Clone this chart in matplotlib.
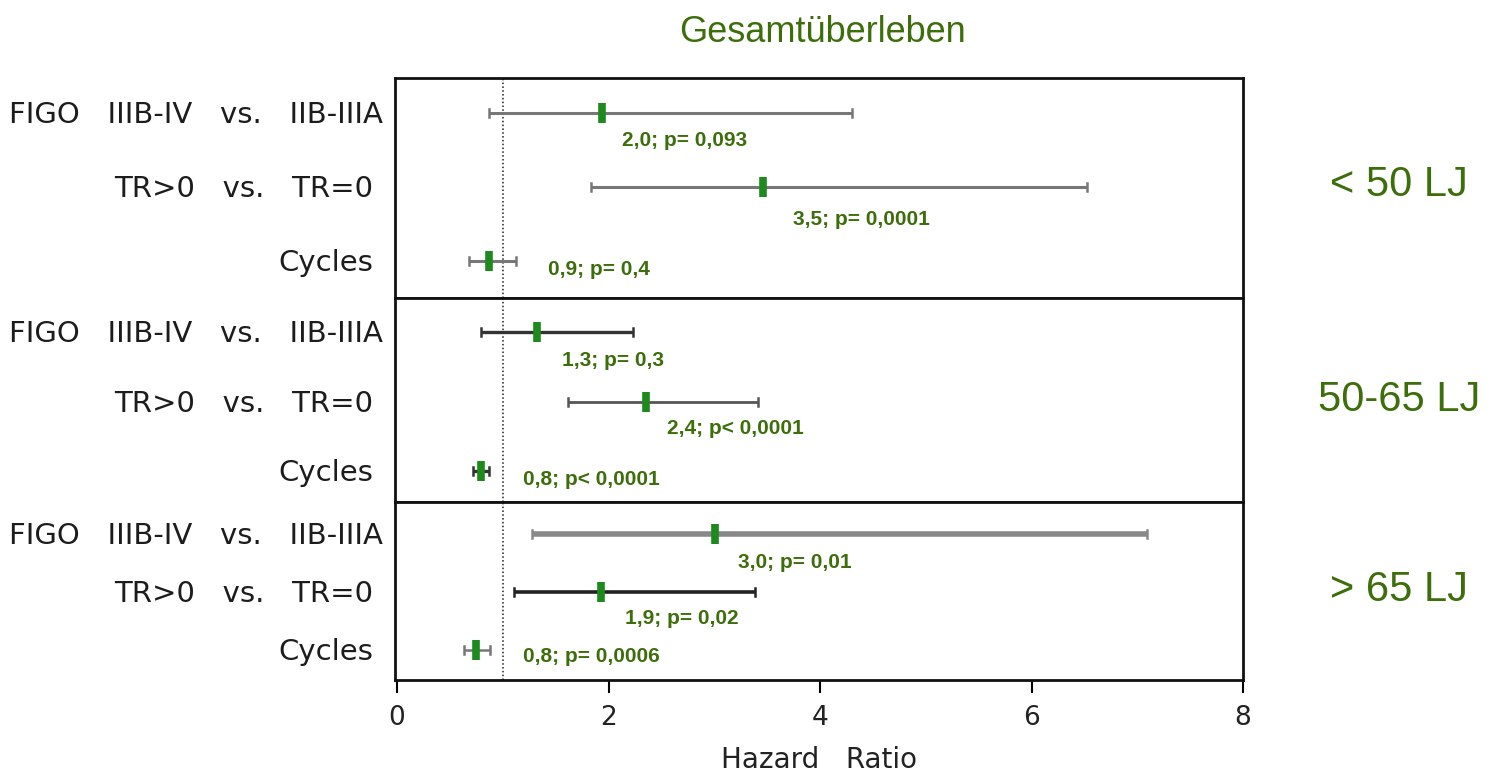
import numpy as np
import matplotlib.pyplot as plt

# hazard ratios with confidence intervals, per age group
groups = ["< 50 LJ", "50-65 LJ", "> 65 LJ"]
rows = ["FIGO   IIIB-IV   vs.   IIB-IIIA", "TR>0   vs.   TR=0", "Cycles"]
hr = [[1.94, 3.46, 0.87],
      [1.32, 2.35, 0.79],
      [3.01, 1.93, 0.75]]
ci_low = [[0.87, 1.83, 0.68],
          [0.79, 1.62, 0.72],
          [1.28, 1.11, 0.63]]
ci_high = [[4.30, 6.52, 1.12],
           [2.23, 3.41, 0.87],
           [7.09, 3.38, 0.88]]
notes = [["2,0; p= 0,093", "3,5; p= 0,0001", "0,9; p= 0,4"],
         ["1,3; p= 0,3", "2,4; p< 0,0001", "0,8; p< 0,0001"],
         ["3,0; p= 0,01", "1,9; p= 0,02", "0,8; p= 0,0006"]]
xticks = [0, 2, 4, 6, 8]

# layout in pixels of the reference (panel tops / row centres)
W, H = 1490, 774
panel_px = [(78, 298), (298, 502), (502, 680)]
row_px = [[113, 187, 261], [332, 402, 471], [534, 592, 650]]
label_right = [383, 373, 373]
note_px = [[(622, 141), (793, 220), (548, 270)],
           [(562, 361), (667, 429), (523, 480)],
           [(738, 563), (625, 618), (523, 657)]]
bar_style = [[("#777777", 2.2), ("#777777", 2.2), ("#777777", 2.2)],
             [("#333333", 2.4), ("#555555", 2.0), ("#333333", 2.4)],
             [("#888888", 4.0), ("#222222", 2.6), ("#777777", 1.8)]]

GREEN = "#3d6e0c"
MARK = "#1e8a1e"
LEFT, RIGHT = 395, 1243
XMIN, XMAX = -0.02, 8

fig = plt.figure(figsize=(W / 100, H / 100), dpi=100)
plt.rcParams['font.family'] = ['Liberation Sans', 'DejaVu Sans']


def px_to_x(px):
    return XMIN + (px - LEFT) / (RIGHT - LEFT) * (XMAX - XMIN)


for g, (top, bot) in enumerate(panel_px):
    ax = fig.add_axes([LEFT / W, 1 - bot / H, (RIGHT - LEFT) / W, (bot - top) / H])
    ax.set_xlim(XMIN, XMAX)
    ax.set_ylim(bot, top)
    for s in ax.spines.values():
        s.set_linewidth(2.0)
        s.set_color("#111111")
    ax.set_yticks([])
    ax.axvline(1, color="#222222", lw=1.1, ls=(0, (1, 1.5)))
    for r in range(3):
        y = row_px[g][r]
        col, lw = bar_style[g][r]
        ax.plot([ci_low[g][r], ci_high[g][r]], [y, y], color=col, lw=lw,
                solid_capstyle='butt')
        for xe in (ci_low[g][r], ci_high[g][r]):
            ax.plot([xe, xe], [y - 4, y + 4], color=col, lw=1.8)
        ax.plot([hr[g][r]], [y], marker='|', ms=15, mew=5.5, color=MARK)
        nx, ny = note_px[g][r]
        ax.text(px_to_x(nx), ny, notes[g][r], color=GREEN, fontsize=15,
                fontweight='bold', va='center', ha='left')
        fig.text(label_right[r] / W, 1 - (y + 2) / H, rows[r], ha='right',
                 va='center', fontsize=21, color="#1c1c1c", family='DejaVu Sans')
    fig.text(1399 / W, 1 - (row_px[g][1] - 2) / H, groups[g], ha='center',
             va='center', fontsize=30, color=GREEN)
    if g < 2:
        ax.set_xticks([])
    else:
        ax.set_xticks(xticks)
        ax.set_xticklabels([str(t) for t in xticks], family='DejaVu Sans')
        ax.tick_params(axis='x', length=9, width=1.5, labelsize=19,
                       labelcolor="#222222", pad=9)
        ax.set_xlabel("Hazard   Ratio", fontsize=20, color="#222222",
                      labelpad=11, family='DejaVu Sans')

fig.text(823 / W, 1 - 42 / H, "Gesamtüberleben", ha='center', va='baseline',
         fontsize=26, color=GREEN)

fig.savefig("out.png", dpi=100)
